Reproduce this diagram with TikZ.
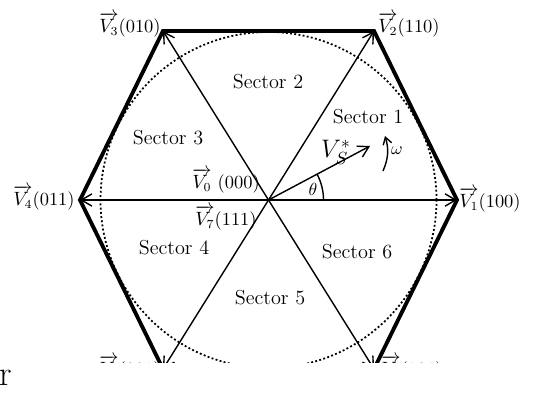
\documentclass[tikz,border=0pt]{standalone}
\usepackage{tikz}
\usetikzlibrary{arrows.meta,calc}
\usepackage{amsmath}

\begin{document}
\begin{tikzpicture}[x=0.02cm, y=0.02cm,
   edge/.style={line width=2.2pt, line join=miter},
   spoke/.style={line width=0.8pt, -{Straight Barb[length=6pt,width=7pt]}},
   vlabel/.style={font=\fontsize{10.5}{12}\selectfont, inner sep=0pt},
   sector/.style={font=\fontsize{11.5}{14}\selectfont}]
  \useasboundingbox (0,0) rectangle (553,392);
  \coordinate (O) at (268.5,192);
  \coordinate (v1) at (457,192);
  \coordinate (v2) at (374,361);
  \coordinate (v3) at (163,361);
  \coordinate (v4) at (80,192);
  \coordinate (v5) at (163,23);
  \coordinate (v6) at (374,23);
  \coordinate (vs) at ($(O)+(28:115)$);
  \coordinate (w0) at (383,221);
  \coordinate (w1) at (385,256);
  \begin{scope}
    \clip (0,30) rectangle (553,392);
    \draw[line width=1pt, dash pattern=on 1.1pt off 1.3pt] (O) circle[radius=168];
    \draw[edge] (v1) -- (v2) -- (v3) -- (v4) -- (v5) -- (v6) -- cycle;
    \foreach \v in {v1,v2,v3,v4,v5,v6}
      \draw[spoke] (O) -- (\v);
    \node[vlabel] (l5) at (130,24) {$\overrightarrow{V_5}$(001)};
    \node[vlabel] (l6) at (412,24) {$\overrightarrow{V_6}$(101)};
  \end{scope}
  \draw[spoke] (O) -- (vs);
  \draw[line width=0.8pt] (O) ++(55,0) arc[start angle=0, end angle=28, radius=55];
  \draw[line width=0.8pt, -{Straight Barb[length=4pt,width=5pt]}] (w0) to[bend right=20] (w1);
  \node[vlabel] (l1) at (490,192) {$\overrightarrow{V_1}$(100)};
  \node[vlabel] (l2) at (409,367) {$\overrightarrow{V_2}$(110)};
  \node[vlabel] (l3) at (130,367) {$\overrightarrow{V_3}$(010)};
  \node[vlabel] (l4) at (44,194) {$\overrightarrow{V_4}$(011)};
  \node[vlabel] (l0) at (226,211) {$\overrightarrow{V_0}$ (000)};
  \node[vlabel] (l7) at (226,174) {$\overrightarrow{V_7}$(111)};
  \node[font=\fontsize{14}{16}\selectfont] (vslab) at (336,240) {$V_S^*$};
  \node[font=\fontsize{10}{12}\selectfont] (wlab) at (397,241) {$\omega$};
  \node[font=\fontsize{10}{12}\selectfont] (thlab) at (313,203) {$\theta$};
  \node[sector] (s1) at (368,275) {Sector 1};
  \node[sector] (s2) at (268,310) {Sector 2};
  \node[sector] (s3) at (168,254) {Sector 3};
  \node[sector] (s4) at (174,144) {Sector 4};
  \node[sector] (s5) at (270,94) {Sector 5};
  \node[sector] (s6) at (357,140) {Sector 6};
  \node[font=\fontsize{20}{22}\selectfont, inner sep=0pt] (r) at (6,14) {r};
\end{tikzpicture}
\end{document}
